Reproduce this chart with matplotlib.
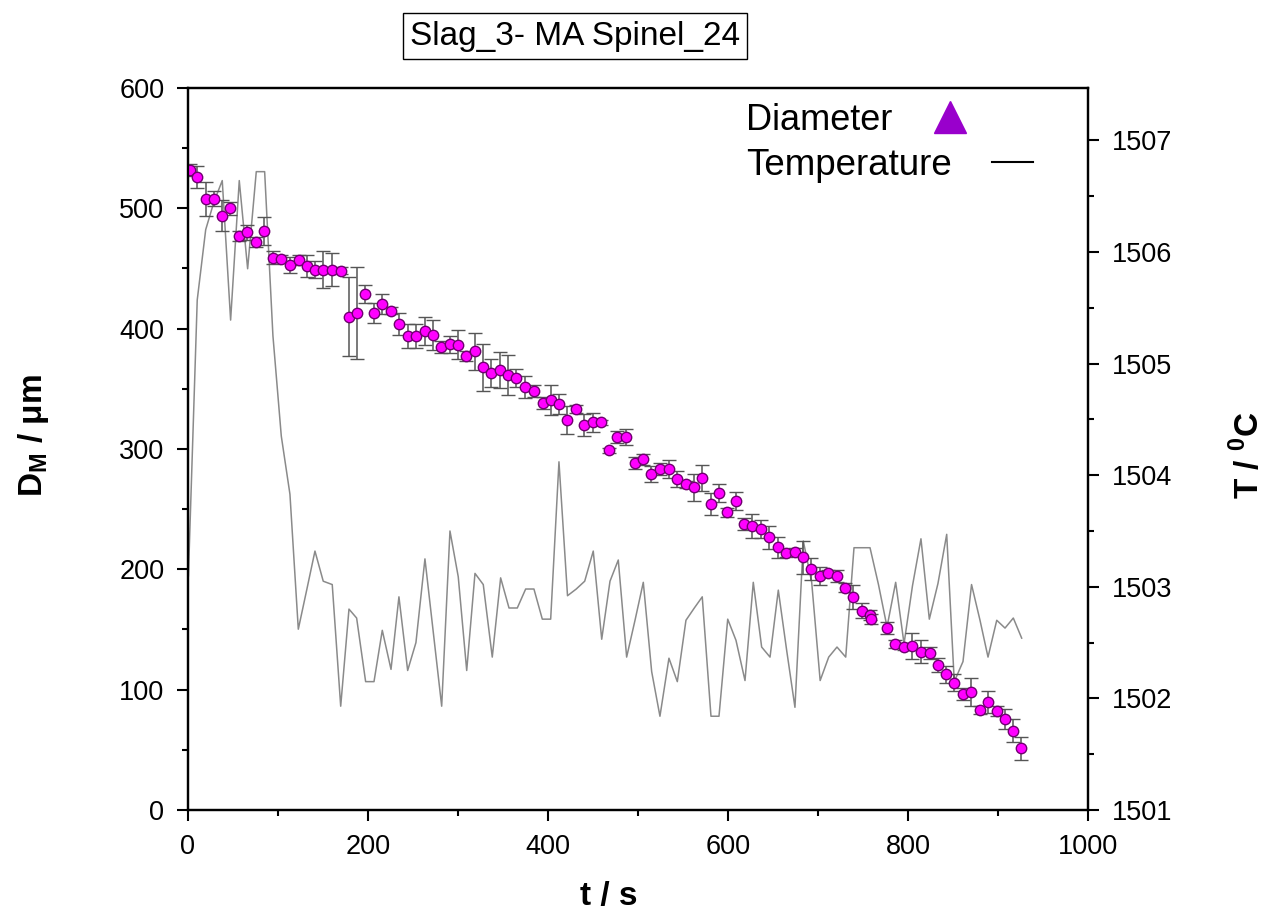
import matplotlib
matplotlib.use('Agg')
import matplotlib.pyplot as plt
from matplotlib.lines import Line2D
from matplotlib.ticker import MultipleLocator

plt.rcParams['font.family'] = ['Liberation Sans', 'DejaVu Sans']
plt.rcParams['mathtext.fontset'] = 'custom'
plt.rcParams['mathtext.rm'] = 'Liberation Sans'
plt.rcParams['mathtext.bf'] = 'Liberation Sans:bold'

# diameter of the particle (um) with error
t_d = [2, 10, 20, 29, 38, 47, 57, 66, 76, 85, 94, 103, 113, 123, 132, 141, 150, 160, 170, 179,
       188, 197, 207, 216, 226, 235, 244, 253, 263, 272, 281, 291, 300, 309, 319, 328, 337, 347, 356, 365,
       374, 384, 394, 403, 412, 421, 431, 440, 450, 459, 468, 477, 487, 497, 506, 515, 524, 534, 543, 553,
       562, 571, 581, 590, 599, 609, 618, 627, 637, 646, 656, 664, 674, 683, 692, 702, 711, 721, 730, 739,
       749, 758, 759, 777, 786, 796, 805, 814, 824, 833, 842, 851, 861, 870, 880, 889, 899, 908, 917, 926]
diam = [532, 526, 508, 508, 494, 500, 477, 480, 472, 481, 459, 458, 453, 457, 452, 449, 449, 449, 448, 410,
        413, 429, 413, 420.5, 415, 404, 394, 393.5, 398, 395, 385, 387, 386.5, 377.5, 381, 368, 363, 365.7, 361.5, 359,
        351.3, 348.5, 338, 340.7, 337.4, 324, 333, 320, 322, 322, 299, 310, 310, 288.6, 291.5, 279, 283, 283, 275, 270.6,
        268, 276, 254.3, 263.7, 247.3, 256.5, 237.4, 236, 233.5, 226.6, 218.3, 213.3, 214.7, 210, 200.3, 194.5, 196.7, 194.5, 184.8, 177.3,
        165.6, 162, 158.5, 151.6, 138, 135.7, 136.3, 131.6, 130.7, 120.3, 112.8, 105.8, 96, 98, 83.1, 89.5, 82.5, 75.6, 65.9, 51.3]
diam_err = [5, 9, 14, 6, 13, 5.5, 4, 6, 4, 11.5, 5.5, 3, 6.5, 4, 9, 7, 15.5, 13.5, 3, 33,
            38, 7.5, 8, 8, 3, 9, 10, 10, 11.5, 12.5, 5, 7, 12, 4, 15, 19.5, 11.5, 15, 17, 7.5,
            9, 5, 5, 12.5, 8, 11.5, 3.5, 9, 8, 2, 2, 5, 6.5, 5, 4.5, 6.5, 5, 7.5, 6.5, 3,
            11, 11, 9.5, 7.5, 4, 7.5, 5, 10, 7.5, 9.5, 8.5, 3, 3, 13.5, 9.5, 7.5, 3, 5, 4, 10,
            6, 4, 4, 5, 3.5, 3, 11, 9.5, 5, 6, 7, 7, 5, 11.5, 3, 9, 4, 8, 9.5, 9.5]

# temperature (deg C)
t_temp = [0.5, 10.3, 19.7, 28.9, 38.1, 47.4, 57.0, 66.3, 75.9, 85.2, 94.4, 103.7, 113.3, 122.6, 131.9, 141.1,
          150.3, 160.3, 169.7, 178.9, 187.4, 197.4, 206.7, 215.9, 225.6, 234.4, 244.1, 253.3, 263.3, 272.6, 281.9,
          291.1, 300.3, 309.7, 318.9, 328.1, 338.1, 347.4, 356.7, 365.9, 375.2, 384.4, 393.7, 403.0, 412.2, 421.7,
          431.4, 440.8, 450.3, 459.7, 468.9, 478.1, 487.4, 496.7, 505.9, 515.2, 524.4, 534.4, 543.7, 553.3, 562.6,
          571.4, 581.1, 590.0, 599.7, 608.9, 618.9, 628.1, 637.4, 646.7, 655.9, 665.2, 674.4, 683.7, 693.0, 702.4,
          711.9, 721.1, 730.8, 740.0, 748.9, 757.8, 767.2, 776.7, 786.3, 795.6, 805.0, 814.4, 823.7, 833.3, 843.0,
          851.4, 861.1, 870.6, 880.0, 888.9, 898.6, 907.8, 917.0, 926.3]
temp = [1503.10, 1505.57, 1506.20, 1506.45, 1506.64, 1505.39, 1506.64, 1505.85, 1506.72, 1506.72, 1505.25,
        1504.35, 1503.83, 1502.62, 1502.97, 1503.32, 1503.05, 1503.02, 1501.93, 1502.80, 1502.72, 1502.15,
        1502.15, 1502.61, 1502.26, 1502.91, 1502.25, 1502.50, 1503.25, 1502.59, 1501.93, 1503.50, 1503.09,
        1502.25, 1503.12, 1503.02, 1502.37, 1503.08, 1502.81, 1502.81, 1502.98, 1502.98, 1502.71, 1502.71,
        1504.12, 1502.92, 1502.98, 1503.05, 1503.32, 1502.53, 1503.05, 1503.24, 1502.37, 1502.70, 1503.04,
        1502.24, 1501.84, 1502.36, 1502.15, 1502.70, 1502.81, 1502.91, 1501.84, 1501.84, 1502.71, 1502.52,
        1502.16, 1503.04, 1502.46, 1502.37, 1502.97, 1502.43, 1501.92, 1503.41, 1503.04, 1502.16, 1502.37,
        1502.46, 1502.37, 1503.35, 1503.35, 1503.35, 1503.02, 1502.64, 1503.04, 1502.49, 1503.01, 1503.43,
        1502.71, 1503.03, 1503.47, 1502.15, 1502.33, 1503.02, 1502.70, 1502.37, 1502.70, 1502.63, 1502.72,
        1502.54]

fig = plt.figure(figsize=(12.7, 9.22), dpi=100)
ax = fig.add_axes([0.148, 0.1215, 0.7087, 0.7831])
ax2 = ax.twinx()

ax2.plot(t_temp, temp, color='#8a8a8a', lw=1.1)

ax.errorbar(t_d, diam, yerr=diam_err, fmt='o', ms=7.5, mfc='#ff00ff', mec='#700070', mew=1,
            ecolor='#555555', elinewidth=1.1, capsize=5, capthick=1.1)

ax.set_zorder(ax2.get_zorder() + 1)
ax.patch.set_visible(False)

ax.set_xlim(0, 1000)
ax.set_ylim(0, 600)
ax2.set_ylim(1501, 1507.47)

ax.xaxis.set_major_locator(MultipleLocator(200))
ax.xaxis.set_minor_locator(MultipleLocator(100))
ax.yaxis.set_major_locator(MultipleLocator(100))
ax.yaxis.set_minor_locator(MultipleLocator(50))
ax2.yaxis.set_major_locator(MultipleLocator(1))
ax2.yaxis.set_minor_locator(MultipleLocator(0.5))

for a in (ax, ax2):
    a.tick_params(which='major', direction='out', length=8, width=1.5, labelsize=19.5, pad=9)
    a.tick_params(which='minor', direction='out', length=4, width=1.5)
    for s in a.spines.values():
        s.set_linewidth(1.6)
ax.tick_params(axis='both', which='both', top=False, right=False)
ax2.tick_params(axis='y', which='both', left=False)

ax.set_xlabel('t / s', fontsize=24, fontweight='bold')
ax.xaxis.set_label_coords(0.468, -0.098)
ax.set_ylabel('D$_{\\mathbf{M}}$ / μm', fontsize=24, fontweight='bold')
ax.yaxis.set_label_coords(-0.152, 0.519)
ax2.set_ylabel('T / $^{\\mathbf{0}}$C', fontsize=24, fontweight='bold')
ax2.yaxis.set_label_coords(1.158, 0.492)

h_d = Line2D([], [], ls='none', marker='^', ms=23, color='#9900cc')
leg1 = ax2.legend([h_d], ['Diameter'], loc='center left', bbox_to_anchor=(0.62, 0.955),
                  markerfirst=False, frameon=False, fontsize=26, borderpad=0,
                  handlelength=2.2, handletextpad=0.5, borderaxespad=0)
ax2.add_artist(leg1)
h_t = Line2D([], [], color='black', lw=1.5)
ax2.legend([h_t], ['Temperature'], loc='center left', bbox_to_anchor=(0.62, 0.893),
           markerfirst=False, frameon=False, fontsize=26.5, borderpad=0,
           handlelength=1.1, handletextpad=1.1, borderaxespad=0)

fig.text(575 / 1270, 1 - 36 / 922, 'Slag_3- MA Spinel_24', fontsize=24, ha='center', va='center',
         bbox=dict(boxstyle='square,pad=0.22', fc='white', ec='black', lw=1))

fig.savefig('out.png', dpi=100)
